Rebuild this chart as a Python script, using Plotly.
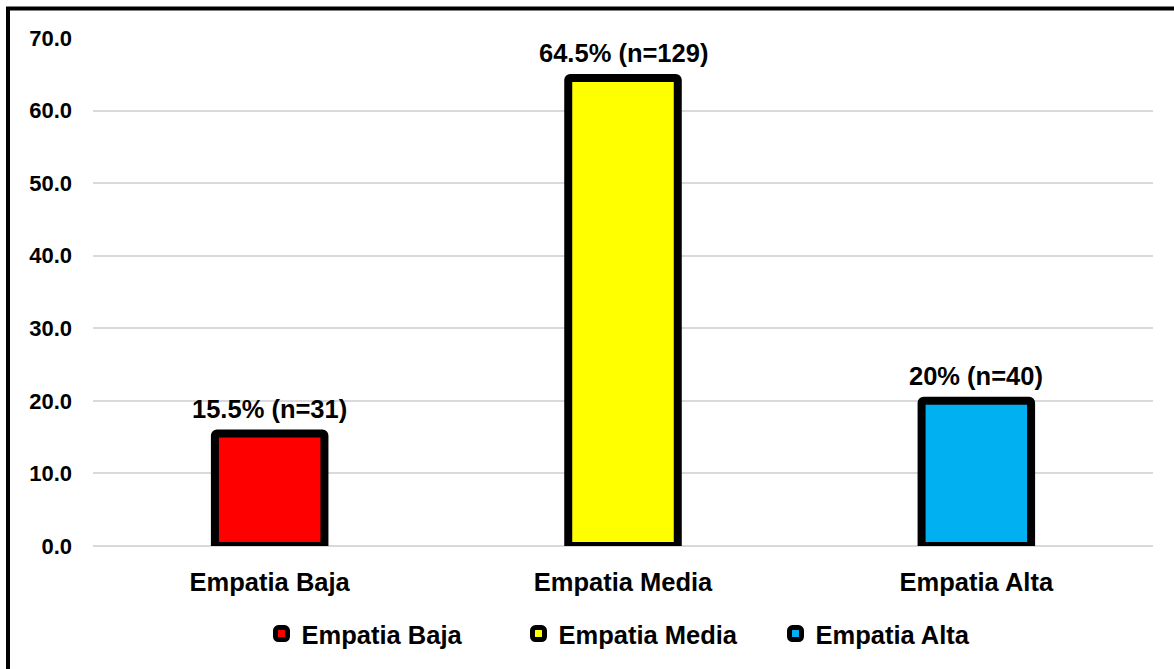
import plotly.graph_objects as go

categories = ["Empatia Baja", "Empatia Media", "Empatia Alta"]
values = [15.5, 64.5, 20.0]
counts = [31, 129, 40]
pct_labels = ["15.5%", "64.5%", "20%"]
colors = ["#FF0000", "#FFFF00", "#00B0F0"]
y_ticks = [0, 10, 20, 30, 40, 50, 60, 70]

FONT = "Arial, 'Liberation Sans', sans-serif"

fig = go.Figure()
for cat, v, c in zip(categories, values, colors):
    fig.add_trace(go.Bar(
        x=[cat], y=[v], name=cat,
        marker=dict(color=c, line=dict(color="black", width=8), cornerradius=2),
        width=0.31, cliponaxis=False,
    ))

for cat, v, n, p in zip(categories, values, counts, pct_labels):
    fig.add_annotation(
        x=cat, y=v, xref="x", yref="y",
        text=f"{p} (n={n})", showarrow=False,
        yanchor="bottom", yshift=9,
        font=dict(family=FONT, size=25.5, color="black", weight="bold"),
    )

W, H = 1174, 669
L, R, T, B = 93, 21, 38, 123
pw, ph = W - L - R, H - T - B

fig.update_layout(
    width=W, height=H,
    margin=dict(l=L, r=R, t=T, b=B),
    paper_bgcolor="white", plot_bgcolor="white",
    barmode="overlay",
    showlegend=True,
    legend=dict(orientation="h", x=0.5 + 24 / pw, xanchor="center",
                y=(0 - 88) / ph, yanchor="middle",
                font=dict(family=FONT, size=25.5, color="black", weight="bold"),
                itemclick=False, itemwidth=30, traceorder="normal",
                entrywidth=212, entrywidthmode="pixels"),
    font=dict(family=FONT, color="black"),
)
fig.update_xaxes(
    categoryorder="array", categoryarray=categories,
    showgrid=False, showline=False, ticks="",
    tickfont=dict(family=FONT, size=25.5, color="black", weight="bold"),
    ticklabelstandoff=18,
)
fig.update_yaxes(
    range=[0, 70], tickvals=y_ticks, tickformat=".1f",
    showgrid=True, gridcolor="#D9D9D9", gridwidth=1.5,
    zeroline=True, zerolinecolor="#D9D9D9", zerolinewidth=1.5,
    showline=False, ticks="",
    tickfont=dict(family=FONT, size=22, color="black", weight="bold"),
    ticklabelstandoff=20,
)

# outer chart border (extends past right/bottom of the image)
fig.add_shape(type="rect", xref="paper", yref="paper",
              x0=(8 - L) / pw, x1=(W + 20 - L) / pw,
              y0=-(H + 20 - (H - B)) / ph, y1=(H - B - 8.5) / ph,
              line=dict(color="black", width=4), fillcolor="rgba(0,0,0,0)",
              layer="above")

fig.write_html("out.html")
